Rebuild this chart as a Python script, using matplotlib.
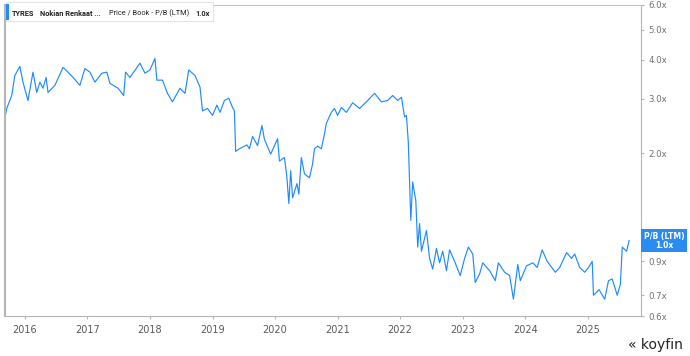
import matplotlib.pyplot as plt
import numpy as np
from matplotlib.patches import Rectangle

# decimal year, P/B value
years = [2015.68, 2015.71, 2015.79, 2015.84, 2015.92, 2015.97, 2016.05, 2016.13, 2016.19, 2016.24,
         2016.29, 2016.34, 2016.37, 2016.48, 2016.61, 2016.69, 2016.77, 2016.88, 2016.96, 2017.04,
         2017.12, 2017.23, 2017.31, 2017.36, 2017.49, 2017.58, 2017.61, 2017.68, 2017.84, 2017.92,
         2018.00, 2018.08, 2018.11, 2018.20, 2018.28, 2018.36, 2018.48, 2018.56, 2018.62, 2018.72,
         2018.80, 2018.84, 2018.92, 2019.00, 2019.07, 2019.12, 2019.19, 2019.26, 2019.32, 2019.35,
         2019.37, 2019.43, 2019.55, 2019.59, 2019.64, 2019.72, 2019.79, 2019.83, 2019.93, 2020.04,
         2020.07, 2020.15, 2020.19, 2020.22, 2020.25, 2020.28, 2020.35, 2020.38, 2020.42, 2020.47,
         2020.55, 2020.60, 2020.63, 2020.68, 2020.74, 2020.79, 2020.82, 2020.90, 2020.95, 2021.00,
         2021.06, 2021.14, 2021.24, 2021.35, 2021.46, 2021.59, 2021.70, 2021.80, 2021.88, 2021.96,
         2022.02, 2022.07, 2022.10, 2022.13, 2022.17, 2022.20, 2022.25, 2022.28, 2022.31, 2022.34,
         2022.42, 2022.47, 2022.52, 2022.58, 2022.63, 2022.68, 2022.74, 2022.79, 2022.87, 2022.96,
         2023.03, 2023.09, 2023.16, 2023.20, 2023.27, 2023.32, 2023.43, 2023.52, 2023.57, 2023.67,
         2023.75, 2023.81, 2023.88, 2023.92, 2024.02, 2024.12, 2024.19, 2024.27, 2024.35, 2024.48,
         2024.55, 2024.66, 2024.74, 2024.79, 2024.87, 2024.95, 2025.01, 2025.07, 2025.09, 2025.18,
         2025.27, 2025.33, 2025.39, 2025.47, 2025.52, 2025.55, 2025.62, 2025.66]
pb = [2.59, 2.79, 3.07, 3.56, 3.81, 3.39, 2.96, 3.65, 3.14, 3.39,
      3.24, 3.51, 3.14, 3.31, 3.78, 3.65, 3.51, 3.31, 3.75, 3.65,
      3.39, 3.62, 3.65, 3.36, 3.24, 3.07, 3.65, 3.51, 3.90, 3.62,
      3.71, 4.04, 3.44, 3.44, 3.12, 2.93, 3.24, 3.12, 3.71, 3.56,
      3.27, 2.74, 2.79, 2.65, 2.86, 2.71, 2.96, 3.01, 2.81, 2.74,
      2.03, 2.07, 2.13, 2.07, 2.27, 2.12, 2.46, 2.22, 1.99, 2.23,
      1.89, 1.94, 1.67, 1.38, 1.76, 1.44, 1.60, 1.48, 1.94, 1.72,
      1.67, 1.85, 2.07, 2.11, 2.07, 2.31, 2.50, 2.71, 2.79, 2.65,
      2.81, 2.71, 2.91, 2.79, 2.93, 3.12, 2.93, 2.96, 3.07, 2.96,
      3.03, 2.62, 2.65, 2.17, 1.22, 1.62, 1.41, 1.00, 1.19, 0.97,
      1.13, 0.92, 0.85, 0.99, 0.89, 0.97, 0.84, 0.98, 0.90, 0.81,
      0.92, 1.00, 0.95, 0.77, 0.82, 0.89, 0.84, 0.78, 0.89, 0.83,
      0.81, 0.68, 0.88, 0.78, 0.87, 0.89, 0.86, 0.98, 0.90, 0.83,
      0.86, 0.96, 0.92, 0.95, 0.86, 0.83, 0.86, 0.90, 0.70, 0.73,
      0.68, 0.78, 0.79, 0.70, 0.76, 1.00, 0.97, 1.05]

year_ticks = list(range(2016, 2026))
y_ticks = [0.6, 0.7, 0.9, 2.0, 3.0, 4.0, 5.0, 6.0]
y_labels = ['0.6x', '0.7x', '0.9x', '2.0x', '3.0x', '4.0x', '5.0x', '6.0x']
header = [('TYRES', 'bold'), ('Nokian Renkaat ...', 'bold'),
          ('Price / Book - P/B (LTM)', 'normal'), ('1.0x', 'bold')]
last_value = '1.0x'

blue = '#1f8bff'
grey = '#b5b5b5'

fig = plt.figure(figsize=(6.9, 3.56), dpi=100)
ax = fig.add_axes([0.007, 0.112, 0.922, 0.874])

ax.plot(years, pb, color=blue, linewidth=0.85)

ax.set_yscale('log')
ax.set_ylim(0.6, 6.0)
ax.set_xlim(2015.68, 2025.85)
ax.yaxis.tick_right()
ax.set_yticks(y_ticks)
ax.set_yticklabels(y_labels)
ax.yaxis.set_minor_locator(plt.NullLocator())
ax.set_xticks(year_ticks)
ax.set_xticklabels([str(y) for y in year_ticks])

ax.tick_params(axis='both', colors=grey, labelcolor='#707070', labelsize=6.2, length=2.5, width=0.8)
ax.tick_params(axis='x', labelsize=7, labelcolor='#5a5a5a', pad=4)
ax.tick_params(axis='y', pad=3)

for side in ['left', 'right', 'bottom', 'top']:
    ax.spines[side].set_color(grey)
ax.spines['left'].set_linewidth(1.5)
ax.spines['top'].set_linewidth(0.6)

# header box with chained texts
fig.patches.append(Rectangle((0.008, 0.94), 0.300, 0.053, transform=fig.transFigure,
                             facecolor='white', edgecolor='#e3e3e3', linewidth=0.8))
fig.patches.append(Rectangle((0.009, 0.943), 0.004, 0.047, transform=fig.transFigure,
                             facecolor=blue, edgecolor='none'))
renderer = fig.canvas.get_renderer()
x_px = 12
gaps = [6, 8, 6, 0]
for (txt, weight), gap in zip(header, gaps):
    t = fig.text(x_px / 690, 0.961, txt, fontsize=5.3, fontweight=weight, family='Roboto',
                 color='#222222', va='center')
    bb = t.get_window_extent(renderer)
    x_px = bb.x1 + gap

# last value label
ax.annotate('P/B (LTM)\n' + last_value, xy=(1.0, pb[-1]), xycoords=('axes fraction', 'data'),
            xytext=(2, 0), textcoords='offset points', ha='left', va='center',
            multialignment='center', fontsize=5.5, fontweight='bold', color='white',
            linespacing=1.0,
            bbox=dict(boxstyle='square,pad=0.35', facecolor='#2a8cf0', edgecolor='none'))

fig.text(0.99, 0.03, '« koyfin', fontsize=10, color='#222222', ha='right', va='center')

plt.savefig('out.png', dpi=100)
